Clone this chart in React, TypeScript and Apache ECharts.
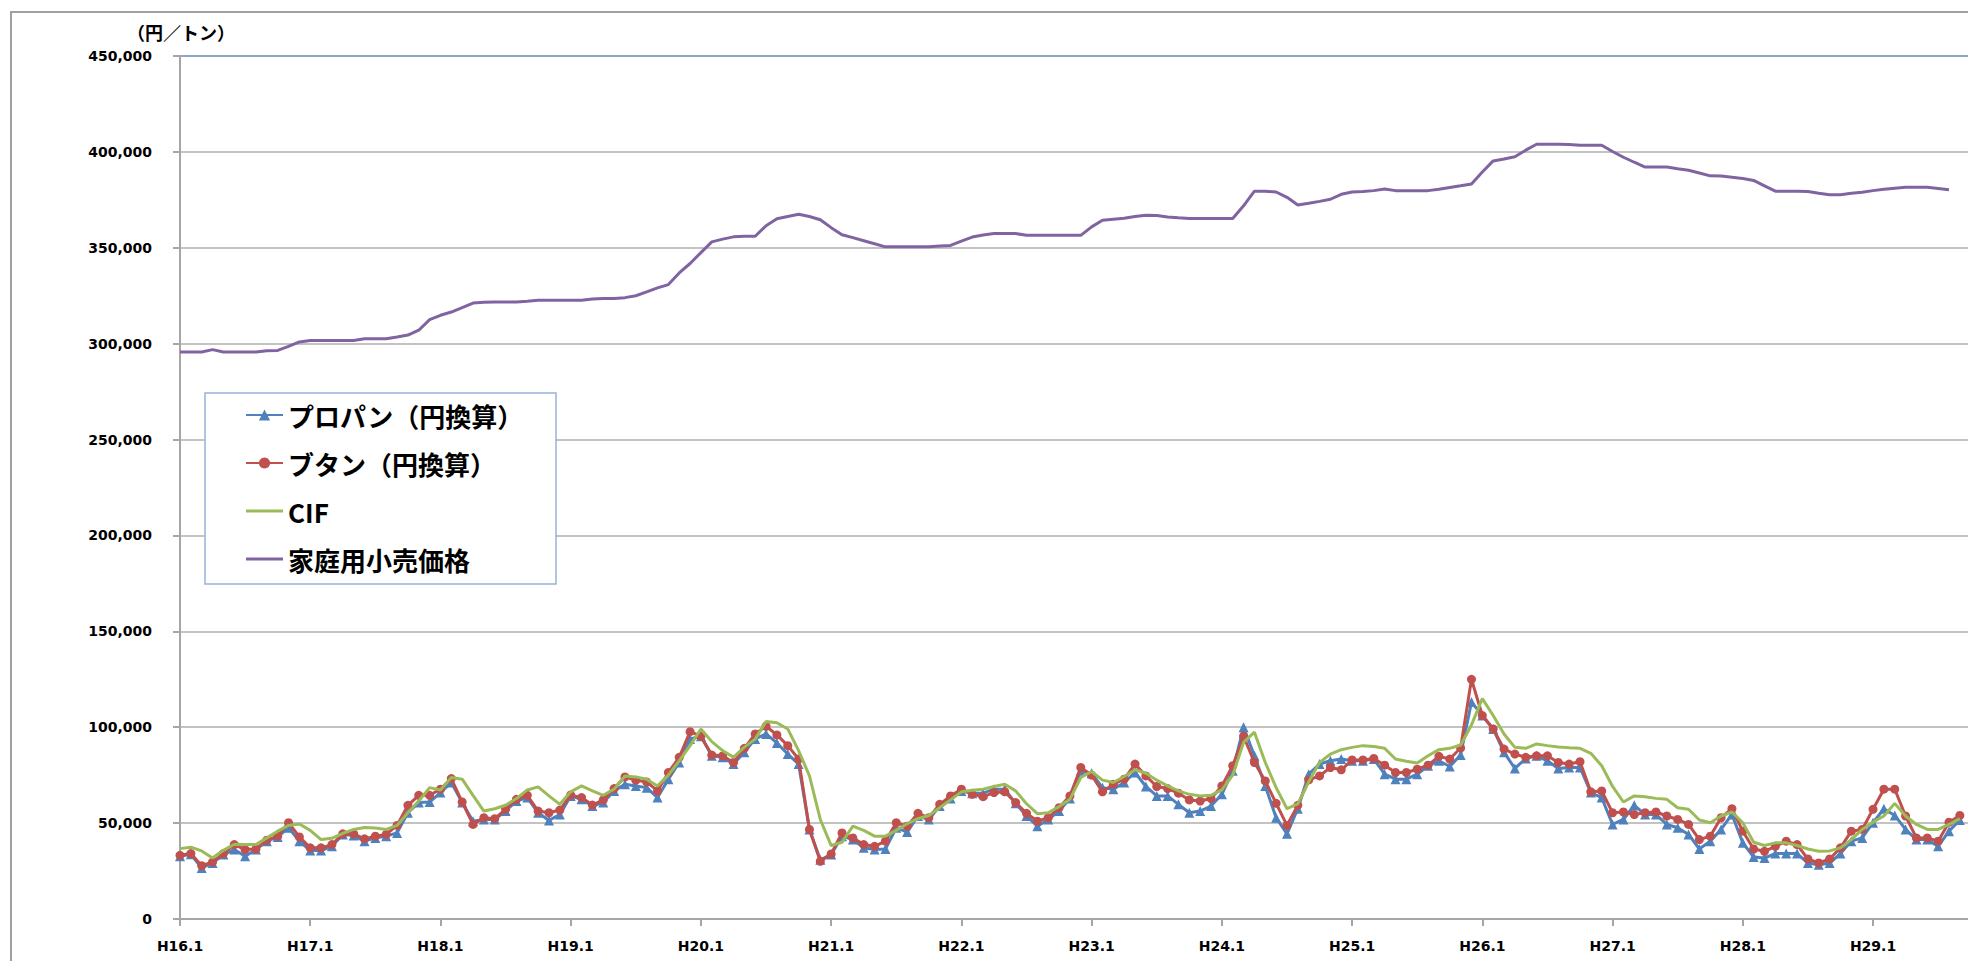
import React, { useEffect, useRef } from "react";
import * as echarts from "echarts";

// Fiscal labels: Heisei year + month (H16.1 ... H29.10)
const YEARS = [16, 17, 18, 19, 20, 21, 22, 23, 24, 25, 26, 27, 28, 29];
const MONTHS = [1, 2, 3, 4, 5, 6, 7, 8, 9, 10, 11, 12];
const CATEGORY_COUNT = 166;
const CATEGORIES: string[] = YEARS.flatMap((y) => MONTHS.map((m) => `H${y}.${m}`)).slice(0, CATEGORY_COUNT);

const Y_TICKS = [0, 50000, 100000, 150000, 200000, 250000, 300000, 350000, 400000, 450000];

const SERIES_NAMES = ["プロパン（円換算）", "ブタン（円換算）", "CIF", "家庭用小売価格"];

// プロパン（円換算）
const PROPANE = [
  32700, 33700, 26600, 29200, 33600, 36200, 32700, 36200, 40600, 42700, 47600, 40600,
  35700, 35700, 37900, 44100, 43500, 40600, 42300, 43200, 44900, 55400, 60700, 61000,
  65900, 71200, 60700, 51000, 51900, 51900, 56300, 61500, 63300, 55400, 51400, 54500,
  64200, 62400, 58900, 60700, 66800, 70300, 69400, 68500, 63300, 72900, 81600, 93900,
  95300, 85100, 84300, 80800, 86900, 93900, 96500, 91800, 86000, 80800, 46700, 30900,
  33600, 43200, 41400, 37100, 36200, 36500, 47600, 45300, 53700, 51900, 58900, 62800,
  66800, 65600, 65600, 67700, 67700, 60300, 53700, 48400, 51900, 56300, 62800, 77300,
  76000, 68500, 67700, 71200, 76400, 69100, 64200, 64200, 59800, 55400, 56300, 58900,
  65000, 77300, 100000, 85100, 69400, 52800, 44400, 57500, 75500, 80800, 82500, 83400,
  82500, 82500, 83400, 75500, 72900, 72900, 75500, 79900, 82500, 79500, 85500, 113100,
  106100, 99100, 86900, 78500, 83700, 85100, 82500, 78500, 79000, 79000, 65900, 63300,
  49300, 51900, 59300, 54500, 54500, 49300, 47600, 44100, 36500, 40600, 46700, 54500,
  39700, 32300, 31800, 34100, 34100, 34100, 29200, 28300, 29200, 34100, 40600, 42300,
  50200, 57500, 54000, 46700, 41400, 41400, 37900, 45800, 51600,
];

// ブタン（円換算）
const BUTANE = [
  33200, 34100, 27800, 29700, 34100, 38800, 36200, 36500, 41100, 43200, 50200, 42800,
  37100, 37100, 38800, 44400, 44400, 41800, 43200, 44100, 48800, 59300, 64500, 64500,
  67700, 73200, 61000, 49300, 52800, 52300, 57200, 62400, 64500, 56300, 55400, 56800,
  64700, 63300, 59400, 62100, 68000, 74100, 72400, 71500, 66800, 76400, 84300, 97700,
  95300, 85500, 85100, 81600, 89000, 96500, 100500, 96000, 90400, 83400, 46700, 30100,
  33900, 44900, 42300, 38800, 37900, 40600, 50200, 48400, 55100, 52800, 59800, 64200,
  67700, 65000, 63800, 65900, 66300, 60700, 55100, 51000, 52800, 58000, 64200, 79000,
  75000, 66300, 70300, 72900, 80800, 74600, 69100, 68000, 65600, 62100, 61500, 62800,
  69400, 79900, 95300, 81600, 72000, 60300, 48800, 59300, 72500, 74600, 79000, 77800,
  82900, 82900, 83700, 80200, 76400, 76400, 78100, 80200, 84800, 83400, 89200, 125000,
  106100, 99100, 88600, 86000, 84300, 85100, 85100, 81600, 80800, 82000, 66300, 66800,
  55400, 55800, 54500, 55400, 55800, 53700, 51900, 49300, 41400, 43200, 52800, 57500,
  45800, 36500, 35300, 37900, 40600, 38800, 31300, 29200, 31300, 37100, 45800, 46700,
  57200, 67700, 67700, 53700, 42300, 42300, 40600, 50500, 54000,
];

// CIF
const CIF = [
  36700, 37400, 35500, 31800, 35800, 39000, 38800, 38800, 42300, 45800, 48800, 49500,
  46200, 41400, 42100, 44600, 46700, 47700, 47400, 46700, 48800, 55400, 61500, 68500,
  67300, 73800, 72900, 64500, 56300, 57500, 59300, 62800, 67300, 68900, 64200, 59800,
  66300, 69400, 66800, 64500, 67700, 74600, 74100, 72900, 69400, 75000, 82500, 90400,
  99100, 92500, 87800, 84300, 89600, 93800, 103000, 102300, 99100, 87800, 74600, 51900,
  38300, 40000, 48400, 46200, 43200, 43200, 46200, 49700, 52300, 54000, 58000, 62100,
  66300, 67100, 67700, 69100, 70300, 66800, 60100, 54900, 55400, 58600, 62400, 73800,
  76900, 72400, 71200, 74300, 77800, 76000, 72400, 69400, 66800, 65000, 64200, 64500,
  67300, 75000, 92100, 97400, 81600, 68500, 57500, 60000, 71500, 81600, 86000, 88300,
  89500, 90400, 90000, 89000, 83400, 82300, 81300, 85100, 88300, 89000, 90700, 101200,
  114900, 106100, 96500, 89500, 89000, 91300, 90400, 89700, 89300, 89000, 86400, 79900,
  69100, 61000, 64200, 63800, 62900, 62400, 58000, 57200, 51600, 50200, 53700, 55800,
  50200, 40000, 38300, 39700, 39700, 38300, 36500, 35300, 35500, 37100, 41400, 46700,
  50500, 53700, 60300, 53700, 49300, 46700, 46700, 49300, 52300,
];

// 家庭用小売価格
const RETAIL = [
  295700, 295700, 295700, 296900, 295700, 295700, 295700, 295700, 296300, 296500, 298600, 300900,
  301700, 301700, 301700, 301700, 301700, 302600, 302600, 302600, 303500, 304500, 307000, 312500,
  314800, 316500, 318800, 321200, 321600, 321700, 321700, 321700, 322100, 322600, 322600, 322600,
  322600, 322600, 323300, 323500, 323500, 324000, 325000, 327000, 329100, 330800, 336900, 341800,
  347500, 353100, 354500, 355700, 356000, 356000, 361500, 365100, 366300, 367500, 366300, 364600,
  360500, 356800, 355300, 353700, 352100, 350500, 350500, 350500, 350500, 350500, 350900, 351200,
  353500, 355600, 356700, 357400, 357400, 357400, 356500, 356500, 356500, 356500, 356500, 356500,
  360900, 364400, 364900, 365400, 366300, 367000, 366800, 366100, 365600, 365300, 365300, 365300,
  365300, 365300, 371900, 379500, 379500, 379100, 376300, 372300, 373200, 374200, 375300, 377900,
  379100, 379300, 379800, 380700, 379800, 379800, 379800, 379800, 380500, 381400, 382300, 383300,
  389500, 395300, 396300, 397500, 400900, 404000, 404000, 404000, 403900, 403500, 403500, 403500,
  400200, 397200, 394600, 392100, 392100, 392100, 391200, 390400, 389000, 387500, 387400, 386800,
  386100, 385100, 382300, 379500, 379500, 379500, 379300, 378400, 377700, 377700, 378400, 378900,
  379800, 380500, 381100, 381600, 381600, 381600, 380900, 380200,
];

const COLORS = ["#4F81BD", "#C0504D", "#9BBB59", "#8064A2"];
const GRID_LINE = "#C3C3C3";
const TOP_LINE = "#8DA5C8";
const AXIS_LINE = "#A6A6A6";
const LABEL_FONT = "'DejaVu Sans', 'Noto Sans CJK JP', sans-serif";
const JP_FONT = "'Noto Sans CJK JP', 'Noto Sans', sans-serif";
const PLAIN_LINE_ICON = "path://M0,0L37,0L37,3L0,3Z";

export default function App() {
  const ref = useRef<HTMLDivElement>(null);

  useEffect(() => {
    if (!ref.current) return;
    const chart = echarts.init(ref.current, undefined, { renderer: "svg" });

    const splitColors = Y_TICKS.map((_, i) => (i === Y_TICKS.length - 1 ? TOP_LINE : GRID_LINE));

    chart.setOption({
      animation: false,
      backgroundColor: "#ffffff",
      grid: { left: 180, top: 56, right: 29.3, bottom: 42, containLabel: false },
      legend: {
        left: 205,
        top: 393,
        orient: "vertical",
        data: [
          { name: SERIES_NAMES[0] },
          { name: SERIES_NAMES[1] },
          { name: SERIES_NAMES[2], icon: PLAIN_LINE_ICON },
          { name: SERIES_NAMES[3], icon: PLAIN_LINE_ICON },
        ],
        symbolKeepAspect: true,
        backgroundColor: "#ffffff",
        borderColor: "#95B3D7",
        borderWidth: 1.5,
        borderRadius: 0,
        padding: [8, 34, 11, 40],
        itemGap: 20,
        itemWidth: 37,
        itemHeight: 14,
        textStyle: {
          fontFamily: JP_FONT,
          fontWeight: "bold",
          fontSize: 26,
          lineHeight: 28,
          color: "#000000",
        },
      },
      graphic: [
        {
          type: "rect",
          silent: true,
          shape: { x: 11, y: 12, width: 2200, height: 1200 },
          style: { fill: "none", stroke: "#A0A0A0", lineWidth: 2 },
          z: 0,
        },
        {
          type: "text",
          silent: true,
          x: 127,
          y: 32,
          style: {
            text: "（円／トン）",
            font: `bold 18px ${JP_FONT}`,
            fill: "#000000",
            textVerticalAlign: "middle",
          },
        },
      ],
      xAxis: {
        type: "category",
        data: CATEGORIES,
        boundaryGap: false,
        axisLine: { show: true, lineStyle: { color: AXIS_LINE, width: 2 } },
        axisTick: { show: true, interval: 11, length: 7, lineStyle: { color: AXIS_LINE, width: 2 } },
        axisLabel: {
          interval: 11,
          margin: 20,
          fontFamily: LABEL_FONT,
          fontWeight: "bold",
          fontSize: 14,
          color: "#000000",
        },
        splitLine: { show: false },
      },
      yAxis: {
        type: "value",
        min: 0,
        max: 450000,
        interval: 50000,
        axisLine: { show: true, lineStyle: { color: AXIS_LINE, width: 2 } },
        axisTick: { show: true, length: 7, lineStyle: { color: AXIS_LINE, width: 2 } },
        axisLabel: {
          margin: 28,
          fontFamily: LABEL_FONT,
          fontWeight: "bold",
          fontSize: 14,
          color: "#000000",
          formatter: (v: number) => v.toLocaleString("en-US"),
        },
        splitLine: { show: true, lineStyle: { color: splitColors, width: 2 } },
      },
      series: [
        {
          name: SERIES_NAMES[0],
          type: "line",
          data: PROPANE,
          symbol: "triangle",
          symbolSize: 10,
          showAllSymbol: true,
          color: COLORS[0],
          lineStyle: { width: 3, color: COLORS[0] },
          itemStyle: { color: COLORS[0] },
          z: 2,
        },
        {
          name: SERIES_NAMES[1],
          type: "line",
          data: BUTANE,
          symbol: "circle",
          symbolSize: 9,
          showAllSymbol: true,
          color: COLORS[1],
          lineStyle: { width: 3, color: COLORS[1] },
          itemStyle: { color: COLORS[1] },
          z: 3,
        },
        {
          name: SERIES_NAMES[2],
          type: "line",
          data: CIF,
          symbol: "none",
          showSymbol: false,
          color: COLORS[2],
          lineStyle: { width: 3, color: COLORS[2] },
          itemStyle: { color: COLORS[2] },
          z: 4,
        },
        {
          name: SERIES_NAMES[3],
          type: "line",
          data: RETAIL,
          symbol: "none",
          showSymbol: false,
          color: COLORS[3],
          lineStyle: { width: 3, color: COLORS[3] },
          itemStyle: { color: COLORS[3] },
          z: 5,
        },
      ],
    });

    return () => chart.dispose();
  }, []);

  return (
    <div
      style={{
        position: "fixed",
        left: 0,
        top: 0,
        width: 1968,
        height: 961,
        overflow: "hidden",
        background: "#ffffff",
      }}
    >
      <div ref={ref} style={{ width: 2000, height: 961 }} />
    </div>
  );
}
